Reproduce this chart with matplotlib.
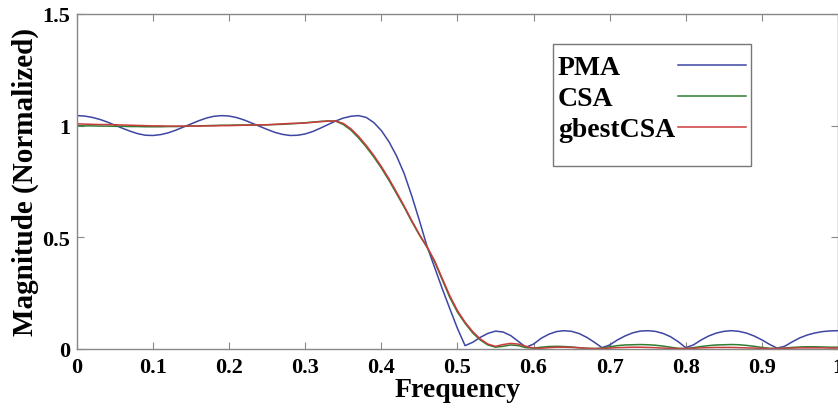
import numpy as np
import matplotlib
matplotlib.use('Agg')
import matplotlib.pyplot as plt
from matplotlib.path import Path

plt.rcParams['font.family'] = ['Liberation Serif', 'DejaVu Serif']
plt.rcParams['font.weight'] = 'bold'

# frequency grid (normalized), step 0.01
freq = np.round(np.arange(0, 1.001, 0.01), 2)

pma = [
    1.045, 1.043, 1.037, 1.028, 1.016, 1.002, 0.988, 0.975, 0.964, 0.957,
    0.956, 0.960, 0.968, 0.980, 0.994, 1.008, 1.022, 1.034, 1.042, 1.045,
    1.043, 1.036, 1.025, 1.011, 0.997, 0.983, 0.970, 0.961, 0.956, 0.957,
    0.963, 0.974, 0.989, 1.005, 1.021, 1.034, 1.042, 1.045, 1.037, 1.014,
    0.978, 0.928, 0.864, 0.785, 0.685, 0.575, 0.460, 0.365, 0.270, 0.180,
    0.092, 0.015, 0.030, 0.052, 0.070, 0.080, 0.076, 0.060, 0.034, 0.008,
    0.022, 0.048, 0.066, 0.078, 0.082, 0.079, 0.069, 0.052, 0.030, 0.006,
    0.018, 0.040, 0.058, 0.072, 0.080, 0.082, 0.079, 0.070, 0.055, 0.033,
    0.006, 0.018, 0.040, 0.058, 0.071, 0.079, 0.082, 0.079, 0.071, 0.058,
    0.041, 0.021, 0.004, 0.012, 0.032, 0.050, 0.063, 0.072, 0.078, 0.081,
    0.082,
]

csa = [
    1.000, 0.999, 0.999, 0.998, 0.998, 0.997, 0.997, 0.996, 0.996, 0.995,
    0.995, 0.995, 0.996, 0.996, 0.997, 0.998, 0.999, 1.000, 1.001, 1.002,
    1.002, 1.003, 1.003, 1.003, 1.003, 1.004, 1.005, 1.006, 1.008, 1.010,
    1.013, 1.016, 1.019, 1.021, 1.020, 1.005, 0.980, 0.945, 0.905, 0.860,
    0.810, 0.755, 0.695, 0.635, 0.570, 0.510, 0.455, 0.390, 0.310, 0.230,
    0.165, 0.115, 0.072, 0.040, 0.018, 0.008, 0.012, 0.018, 0.015, 0.006,
    0.004, 0.008, 0.011, 0.012, 0.011, 0.009, 0.006, 0.003, 0.002, 0.004,
    0.010, 0.015, 0.018, 0.019, 0.020, 0.019, 0.017, 0.013, 0.008, 0.003,
    0.002, 0.006, 0.011, 0.015, 0.018, 0.019, 0.020, 0.019, 0.016, 0.012,
    0.007, 0.003, 0.002, 0.004, 0.007, 0.009, 0.010, 0.010, 0.009, 0.008,
    0.008,
]

gbest = [
    1.008, 1.007, 1.006, 1.005, 1.005, 1.004, 1.003, 1.002, 1.001, 1.000,
    0.999, 0.999, 0.998, 0.998, 0.998, 0.998, 0.998, 0.999, 0.999, 1.000,
    1.000, 1.001, 1.002, 1.003, 1.003, 1.004, 1.006, 1.008, 1.010, 1.011,
    1.012, 1.015, 1.018, 1.020, 1.021, 1.010, 0.986, 0.952, 0.912, 0.867,
    0.817, 0.762, 0.702, 0.640, 0.575, 0.513, 0.458, 0.395, 0.316, 0.238,
    0.172, 0.120, 0.078, 0.045, 0.022, 0.012, 0.020, 0.025, 0.022, 0.012,
    0.004, 0.003, 0.006, 0.008, 0.008, 0.007, 0.005, 0.003, 0.002, 0.002,
    0.004, 0.006, 0.007, 0.008, 0.008, 0.007, 0.006, 0.004, 0.003, 0.002,
    0.002, 0.003, 0.005, 0.006, 0.007, 0.007, 0.007, 0.006, 0.005, 0.004,
    0.003, 0.002, 0.002, 0.003, 0.004, 0.005, 0.005, 0.005, 0.005, 0.004,
    0.004,
]

xticks = [0, 0.1, 0.2, 0.3, 0.4, 0.5, 0.6, 0.7, 0.8, 0.9, 1]
xticklabels = ['0', '0.1', '0.2', '0.3', '0.4', '0.5', '0.6', '0.7', '0.8', '0.9', '1']
yticks = [0, 0.5, 1, 1.5]
yticklabels = ['0', '0.5', '1', '1.5']

fig = plt.figure(figsize=(8.38, 4.14), dpi=100)
ax = fig.add_axes([0.0919, 0.1546, 0.908, 0.8092])

ax.plot(freq, pma, color='#3d46a3', linewidth=1.1, label='PMA')
ax.plot(freq, csa, color='#2e7d32', linewidth=1.1, label='CSA')
ax.plot(freq, gbest, color='#cc3b3b', linewidth=1.1, label='gbestCSA')

ax.set_xlim(0, 1)
ax.set_ylim(0, 1.5)
ax.set_xticks(xticks)
ax.set_xticklabels(xticklabels)
ax.set_yticks(yticks)
ax.set_yticklabels(yticklabels)

ax.tick_params(direction='in', length=5, width=0.8, color='#888888',
               top=True, right=True, labelsize=16)
ax.tick_params(axis='x', pad=6)
ax.tick_params(axis='y', pad=5)
for s in ax.spines.values():
    s.set_color('#888888')
    s.set_linewidth(1.0)

ax.set_xlabel('Frequency', fontsize=20, fontweight='bold', labelpad=0)
ax.set_ylabel('Magnitude (Normalized)', fontsize=21, fontweight='bold', labelpad=2)

leg = ax.legend(loc='upper left', bbox_to_anchor=(0.6255, 0.8925), borderaxespad=0,
                fontsize=20, markerfirst=False, fancybox=False, framealpha=1,
                edgecolor='#777777', handlelength=2.45, labelspacing=0.2,
                borderpad=0.18, handletextpad=0.1)
leg.get_frame().set_linewidth(1.0)


# frame with extra room above and below only (more below)
def tall_box(x0, y0, width, height, mutation_size):
    top = 0.22 * mutation_size
    bottom = 0.68 * mutation_size
    return Path([(x0, y0 - bottom), (x0 + width, y0 - bottom), (x0 + width, y0 + height + top),
                 (x0, y0 + height + top), (x0, y0 - bottom)], closed=True)


leg.get_frame().set_boxstyle(tall_box)

# left-align the legend labels while keeping the line samples on the right
fig.canvas.draw()
renderer = fig.canvas.get_renderer()
widths = [t.get_window_extent(renderer).width * 72 / fig.dpi for t in leg.get_texts()]
wmax = max(widths)
items = leg._legend_handle_box.get_children()[0].get_children()
for item, w in zip(items, widths):
    item.sep = item.sep + (wmax - w)

fig.savefig('out.png', dpi=100)
